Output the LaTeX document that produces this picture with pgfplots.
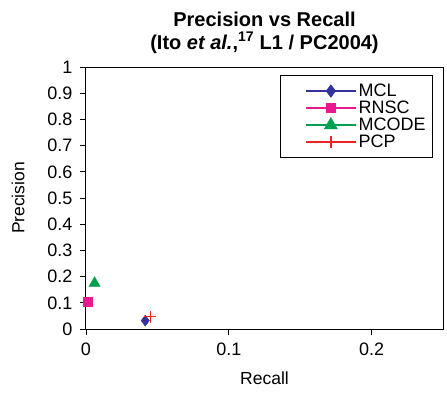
\documentclass[border=0pt]{standalone}
\usepackage{fontspec}
\setmainfont{Liberation Sans}
\usepackage{pgfplots}
\pgfplotsset{compat=1.18}
\definecolor{mclc}{HTML}{333399}
\definecolor{rnscc}{HTML}{E8198F}
\definecolor{mcodec}{HTML}{00A050}
\definecolor{pcpc}{HTML}{EE2222}
\begin{document}
\begin{tikzpicture}
\useasboundingbox (-86pt,-63pt) rectangle (361pt,329pt);
\begin{axis}[
  scale only axis,
  width=357pt, height=262pt,
  xmin=0, xmax=0.25, ymin=0, ymax=1,
  xtick={0,0.1,0.2}, ytick={0,0.1,...,1},
  xticklabels={0,0.1,0.2},
  yticklabels={0,0.1,0.2,0.3,0.4,0.5,0.6,0.7,0.8,0.9,1},
  tick align=outside, xtick pos=left, ytick pos=left,
  major tick length=6pt,
  axis line style={black, line width=1pt},
  tick style={black, line width=0.8pt},
  ticklabel style={font=\fontsize{18}{21}\selectfont},
  /pgf/number format/assume math mode=true,
  xticklabel style={yshift=-4pt},
  yticklabel style={xshift=-4pt},
  every axis y label/.style={at={(axis description cs:-0.19,0.5)}, rotate=90, anchor=center},
  every axis x label/.style={at={(axis description cs:0.5,-0.187)}, anchor=center},
  xlabel={Recall}, ylabel={Precision},
  label style={font=\fontsize{17.5}{20}\selectfont},
  title={Precision vs Recall\\(Ito \textit{et al.},\textsuperscript{17} L1 / PC2004)},
  title style={font=\fontsize{20}{23}\selectfont\bfseries, align=center, yshift=4pt},
  legend style={at={(0.972,0.969)}, anchor=north east, draw=black, line width=0.8pt,
    font=\fontsize{18}{18}\selectfont, inner xsep=5pt, inner ysep=7pt, row sep=0pt,
    cells={anchor=west}, nodes={text height=12.5pt, text depth=1.5pt, inner ysep=1.5pt}},
  legend image code/.code={\path[draw=none,fill=none] (0pt,0pt) -- (70pt,0pt);
    \draw[mark repeat=2,mark phase=2,#1,line width=1.5pt] plot coordinates {(20pt,0pt) (45pt,0pt) (70pt,0pt)};},
]
\addplot[color=mclc, mark=diamond*, mark size=5.5pt] coordinates {(0.0415,0.032)};
\addlegendentry{MCL}
\addplot[color=rnscc, mark=square*, mark size=4.5pt] coordinates {(0.001,0.106)};
\addlegendentry{RNSC}
\addplot[color=mcodec, mark=triangle*, mark size=6.5pt] coordinates {(0.006,0.175)};
\addlegendentry{MCODE}
\addplot[color=pcpc, mark=+, mark size=6pt, line width=1pt] coordinates {(0.045,0.047)};
\addlegendentry{PCP}
\end{axis}
\end{tikzpicture}
\end{document}
